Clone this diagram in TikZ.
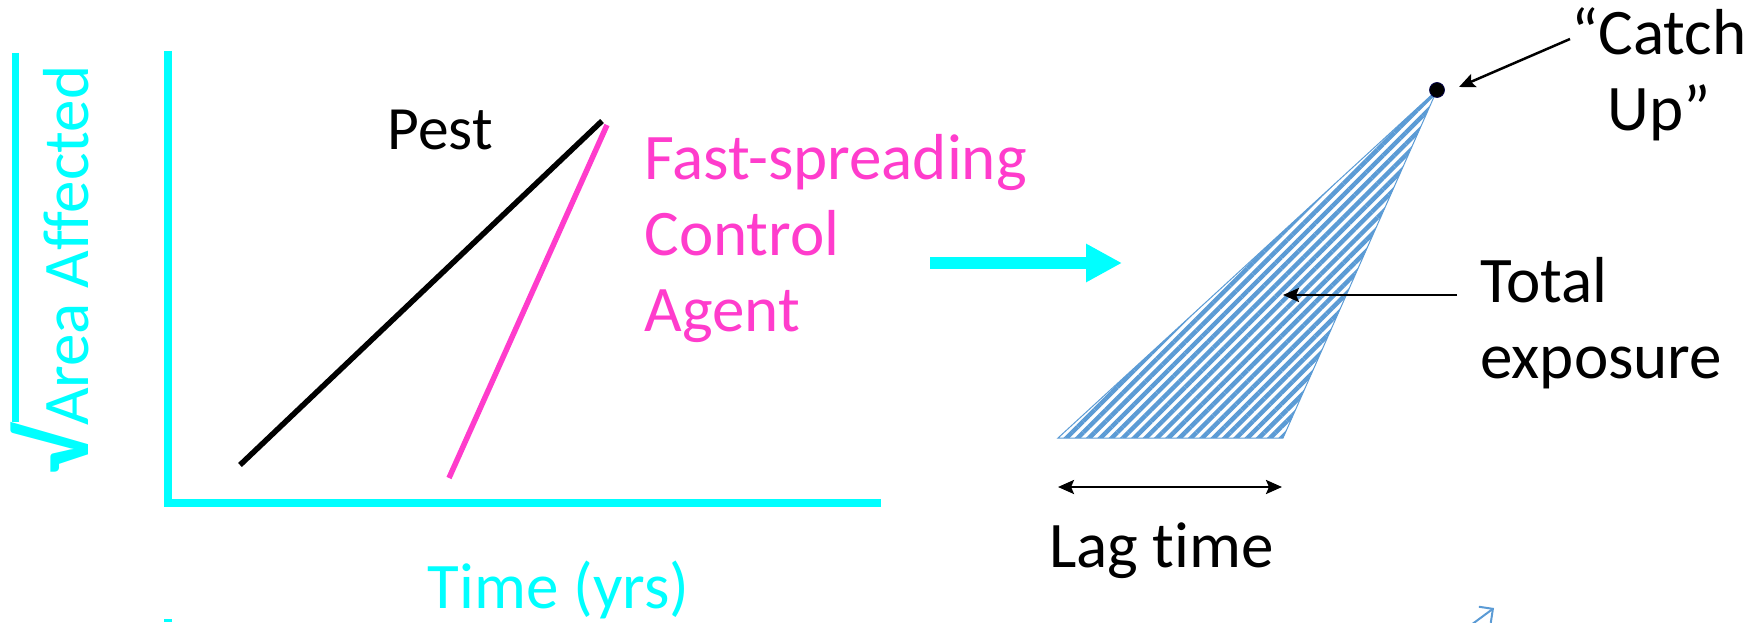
\documentclass[tikz,border=0pt]{standalone}
\usepackage{fontspec}
\setmainfont{Carlito}[Ligatures=NoCommon]
\usepackage{tikz}
\usetikzlibrary{arrows.meta,patterns.meta}

\definecolor{aqua}{RGB}{0,255,255}
\definecolor{hotpink}{RGB}{255,60,204}
\definecolor{hatchblue}{RGB}{91,155,213}

\begin{document}
\begin{tikzpicture}[scale=1.0,
  axis/.style={aqua, line width=0.15cm},
  curve/.style={line width=0.11cm},
  pointer/.style={-{Stealth[length=0.32cm,width=0.28cm,inset=0.06cm]}, line width=0.05cm},
  big/.style={font=\fontsize{37}{43.4}\selectfont, inner sep=0pt}]
  \useasboundingbox (0,0) rectangle (35.14,12.44);

  % Axes (Left)
  \draw[axis, line width=0.14cm] (0.30,11.38) -- (0.30,4.00);
  \node[big, aqua, rotate=90, anchor=base] (arealabel) at (1.76,7.04)
    {{\fontsize{55}{60}\selectfont\bfseries √}Area Affected};
  \draw[axis] (3.36,11.42) -- (3.36,2.38) -- (17.62,2.38);
  \node[big, aqua, anchor=base] (timelabel) at (11.17,0.28) {Time (yrs)};
  \fill[aqua] (3.28,0) rectangle (3.44,0.06);

  % Pest and control agent
  \coordinate (p0) at (4.80,3.14);
  \coordinate (p1) at (12.04,10.02);
  \coordinate (c0) at (8.98,2.88);
  \coordinate (c1) at (12.14,9.94);
  \draw[curve] (p0) -- (p1);
  \draw[curve, hotpink] (c0) -- (c1);
  \node[big, font=\fontsize{35}{40}\selectfont, anchor=base] (pest) at (8.80,9.44) {Pest};
  \node[big, hotpink, align=left, anchor=west] (agent) at (12.88,7.67) {Fast-spreading\\Control\\Agent};

  % Arrow
  \coordinate (go0) at (18.60,7.18);
  \coordinate (go1) at (22.44,7.18);
  \draw[aqua, line width=0.24cm, -{Triangle[length=0.72cm,width=0.72cm]}] (go0) -- (go1);

  % Exposure triangle (Right)
  \coordinate (lagL) at (21.16,3.68);
  \coordinate (lagR) at (25.66,3.68);
  \coordinate (apex) at (28.74,10.64);
  \draw[hatchblue, line width=0.02cm, pattern={Lines[angle=45,distance=0.16cm,line width=0.09cm]},
    pattern color=hatchblue] (lagL) -- (lagR) -- (apex) -- cycle;
  \node[circle, fill=black, draw=black!70!blue, inner sep=0pt, minimum size=0.30cm] (peak) at (apex) {};

  % Labels
  \node[big, align=center] (catchup) at (33.18,10.95) {“Catch\\Up”};
  \coordinate (catchtail) at (31.40,11.66);
  \coordinate (catchtip) at (29.18,10.70);
  \draw[pointer] (catchtail) -- (catchtip);

  \node[big, align=left, anchor=west] (exposure) at (29.60,5.98) {Total\\exposure};
  \coordinate (expotail) at (29.14,6.54);
  \coordinate (expotip) at (25.66,6.54);
  \draw[pointer] (expotail) -- (expotip);

  \coordinate (lag0) at (21.16,2.70);
  \coordinate (lag1) at (25.64,2.70);
  \draw[pointer, {Stealth[length=0.32cm,width=0.28cm,inset=0.06cm]}-{Stealth[length=0.32cm,width=0.28cm,inset=0.06cm]}] (lag0) -- (lag1);
  \node[big, anchor=base] (lagtime) at (23.23,1.10) {Lag time};

  \coordinate (nudge0) at (29.42,-0.06);
  \coordinate (nudge1) at (29.88,0.28);
  \draw[hatchblue, line width=0.04cm, -{Straight Barb[length=0.2cm]}] (nudge0) -- (nudge1);
\end{tikzpicture}
\end{document}
